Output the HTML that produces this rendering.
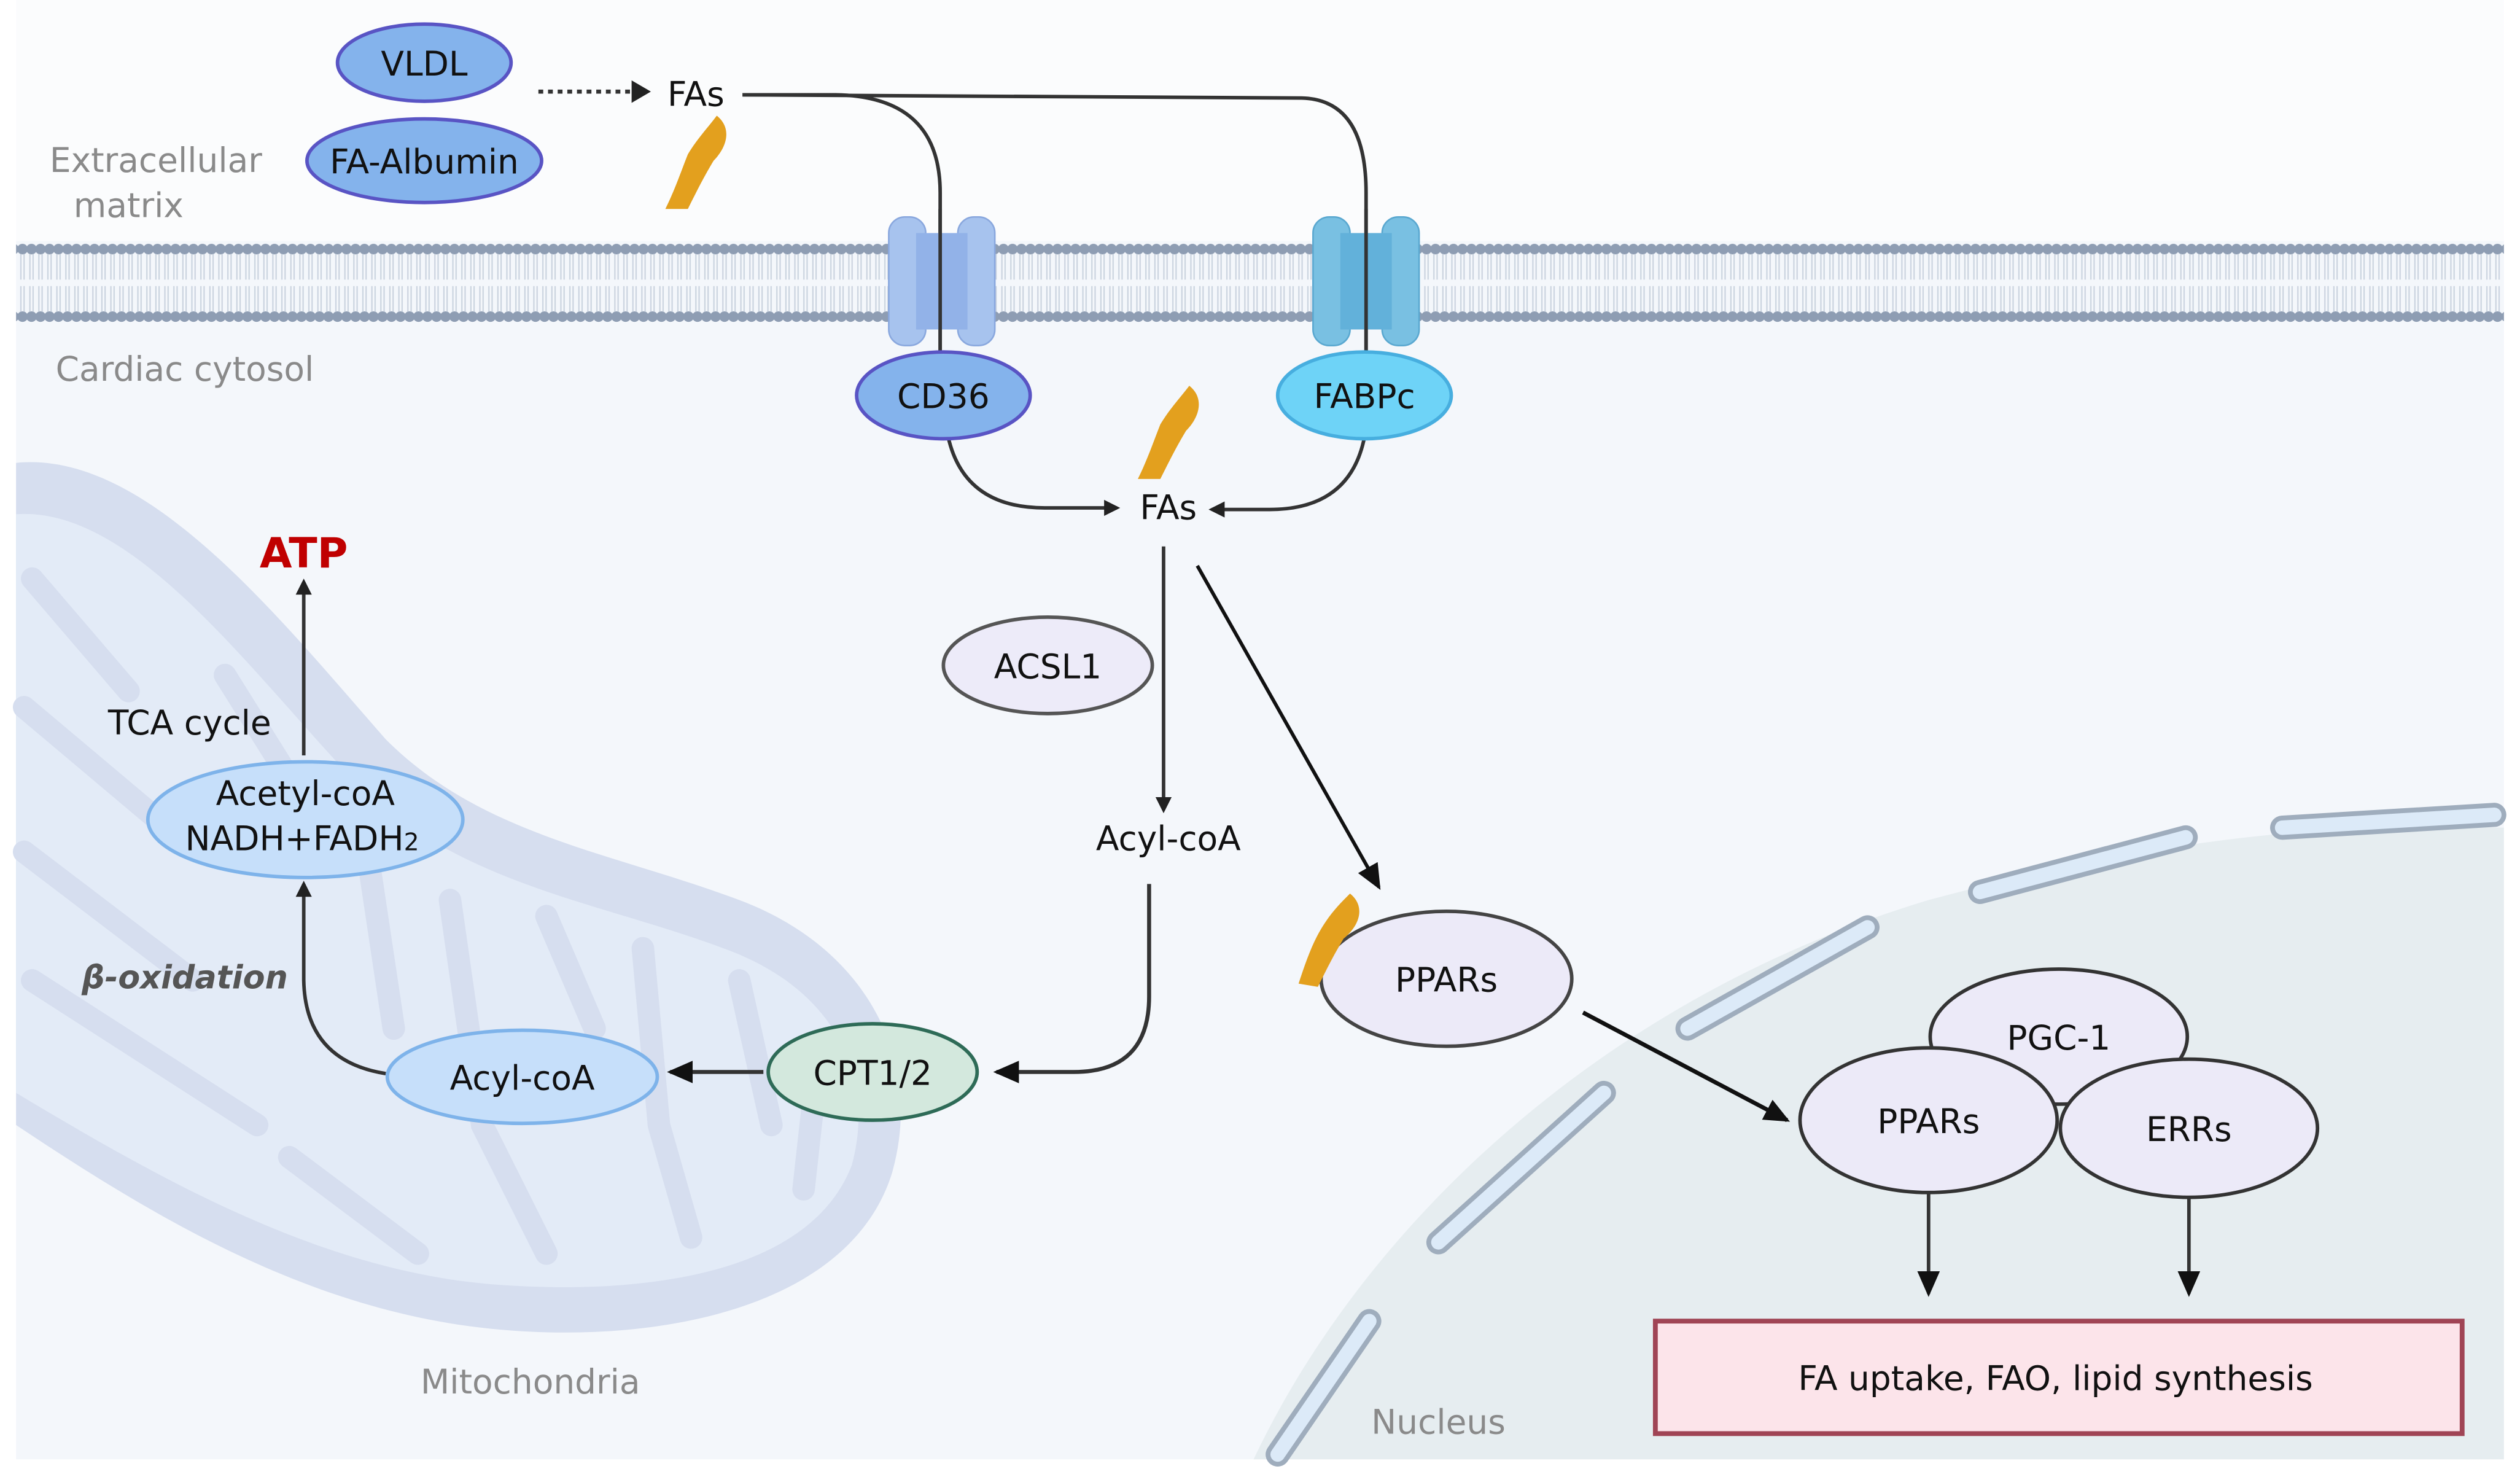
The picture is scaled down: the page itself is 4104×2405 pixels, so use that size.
<!DOCTYPE html>
<html><head><meta charset="utf-8"><style>
html,body{margin:0;padding:0;background:#fff;}
svg{display:block;}
text{font-family:"DejaVu Sans","Liberation Sans",sans-serif;}
</style></head><body>
<svg width="4104" height="2405" viewBox="0 0 1568 919" preserveAspectRatio="none" xmlns="http://www.w3.org/2000/svg">
<defs>
<pattern id="dots" x="0" y="149" width="5.6" height="60" patternUnits="userSpaceOnUse">
<circle cx="2.8" cy="6" r="3.3" fill="#8e9db3"/>
<circle cx="2.8" cy="48" r="3.3" fill="#8e9db3"/>
<line x1="1.8" y1="9" x2="1.8" y2="25" stroke="#c9d2de" stroke-width="0.8"/>
<line x1="3.8" y1="9" x2="3.8" y2="25" stroke="#c9d2de" stroke-width="0.8"/>
<line x1="1.8" y1="29" x2="1.8" y2="45" stroke="#c9d2de" stroke-width="0.8"/>
<line x1="3.8" y1="29" x2="3.8" y2="45" stroke="#c9d2de" stroke-width="0.8"/>
</pattern>
<marker id="ah" markerWidth="10" markerHeight="10" refX="8" refY="5" orient="auto" markerUnits="userSpaceOnUse">
<path d="M0,0 L10,5 L0,10 Z" fill="#222"/>
</marker>
<marker id="ah2" markerWidth="16" markerHeight="14" refX="14" refY="7" orient="auto" markerUnits="userSpaceOnUse">
<path d="M0,0 L16,7 L0,14 Z" fill="#111"/>
</marker>
</defs>
<rect x="10" y="0" width="1548" height="150" fill="#fbfcfd"/>
<rect x="10" y="150" width="1548" height="758" fill="#f4f7fb"/>
<rect x="10" y="149" width="1548" height="55" fill="url(#dots)"/>
<path d="M780,908 C850,760 1000,620 1200,560 C1350,520 1450,512 1558,515 L1558,908 Z" fill="#e6edf0"/>
<g stroke-linecap="round" fill="none">
<g stroke="#9fadbd" stroke-width="15">
<path d="M1420,515 L1552,507"/><path d="M1232,555 L1360,521"/><path d="M1050,640 L1162,577"/><path d="M895,773 L998,680"/><path d="M795,905 L852,822"/>
</g>
<g stroke="#dceaf8" stroke-width="9">
<path d="M1420,515 L1552,507"/><path d="M1232,555 L1360,521"/><path d="M1050,640 L1162,577"/><path d="M895,773 L998,680"/><path d="M795,905 L852,822"/>
</g>
</g>
<path d="M10,288 C90,280 170,380 240,460 C300,520 380,530 460,560 C540,590 575,660 555,730 C530,810 420,835 320,828 C200,820 100,760 10,700 Z" fill="#d6deef"/>
<path d="M10,320 C80,315 150,410 215,480 C280,550 370,560 450,590 C520,615 545,670 530,725 C505,790 410,805 320,800 C210,795 110,740 10,680 Z" fill="#e3ebf7"/>
<g stroke="#d6deef" stroke-width="14" stroke-linecap="round" fill="none">
<path d="M20,360 L80,430"/><path d="M15,440 L110,520"/><path d="M15,530 L120,610"/><path d="M20,610 L160,700"/>
<path d="M140,420 L190,500"/><path d="M230,540 L245,640"/><path d="M280,560 L300,700 L340,780"/><path d="M340,570 L370,640"/><path d="M400,590 L410,700 L430,770"/>
<path d="M460,610 L480,700"/><path d="M510,650 L500,740"/><path d="M180,720 L260,780"/>
</g>
<g fill="#8a8a8a" font-size="21" text-anchor="middle">
<text x="97" y="107">Extracellular</text>
<text x="80" y="135">matrix</text>
<text x="115" y="237">Cardiac cytosol</text>
<text x="330" y="867">Mitochondria</text>
<text x="895" y="892">Nucleus</text>
</g>
<g fill="none" stroke="#333" stroke-width="2.2">
<path d="M462,59 L520,59 Q585,60 585,120 L585,218"/>
<path d="M462,59 L810,61 Q850,62 850,120 L850,218"/>
<path d="M590,272 Q600,316 650,316 L695,316" marker-end="url(#ah)"/>
<path d="M849,272 Q840,317 790,317 L754,317" marker-end="url(#ah)"/>
<path d="M724,340 L724,504" marker-end="url(#ah)"/>
<path d="M715,550 L715,620 Q715,667 668,667 L620,667" stroke-width="2.5" marker-end="url(#ah2)"/>
<path d="M475,667 L417,667" stroke-width="2.5" marker-end="url(#ah2)"/>
<path d="M240,668 Q190,660 189,610 L189,550" marker-end="url(#ah)"/>
<path d="M189,470 L189,362" marker-end="url(#ah)"/>
<path d="M745,352 L858,552" stroke="#111" marker-end="url(#ah2)"/>
<path d="M985,630 L1112,697" stroke="#111" stroke-width="2.6" marker-end="url(#ah2)"/>
<path d="M1200,742 L1200,805" marker-end="url(#ah2)"/>
<path d="M1362,745 L1362,805" marker-end="url(#ah2)"/>
</g>
<path d="M335,57 L395,57" stroke="#333" stroke-width="2.5" stroke-dasharray="3,3"/>
<path d="M393,50 L405,57 L393,64 Z" fill="#222"/>
<g>
<rect x="553" y="135" width="23" height="80" rx="10" fill="#a7c3ee" stroke="#8aa8de"/>
<rect x="596" y="135" width="23" height="80" rx="10" fill="#a7c3ee" stroke="#8aa8de"/>
<rect x="570" y="145" width="32" height="60" fill="#92b2e8"/>
<rect x="817" y="135" width="23" height="80" rx="10" fill="#79c0e2" stroke="#5aa8d0"/>
<rect x="860" y="135" width="23" height="80" rx="10" fill="#79c0e2" stroke="#5aa8d0"/>
<rect x="834" y="145" width="32" height="60" fill="#62b1da"/>
</g>
<path d="M585,130 L585,220 M850,130 L850,220" stroke="#333" stroke-width="2.2"/>
<g stroke-width="2.2">
<ellipse cx="264" cy="39" rx="54" ry="24" fill="#84b3ec" stroke="#5954c4"/>
<ellipse cx="264" cy="100" rx="73" ry="26" fill="#84b3ec" stroke="#5954c4"/>
<ellipse cx="587" cy="246" rx="54" ry="27" fill="#84b3ec" stroke="#5954c4"/>
<ellipse cx="849" cy="246" rx="54" ry="27" fill="#6ed3f7" stroke="#47aedf"/>
<ellipse cx="652" cy="414" rx="65" ry="30" fill="#edebf9" stroke="#555"/>
<ellipse cx="543" cy="667" rx="65" ry="30" fill="#d3e8dd" stroke="#2e6b57"/>
<ellipse cx="325" cy="670" rx="84" ry="29" fill="#c6dffa" stroke="#7eb3ea"/>
<ellipse cx="190" cy="510" rx="98" ry="36" fill="#c6dffa" stroke="#7eb3ea"/>
<ellipse cx="900" cy="609" rx="78" ry="42" fill="#eceaf8" stroke="#444"/>
<ellipse cx="1281" cy="645" rx="80" ry="42" fill="#eceaf8" stroke="#333"/>
<ellipse cx="1200" cy="697" rx="80" ry="45" fill="#eceaf8" stroke="#333"/>
<ellipse cx="1362" cy="702" rx="80" ry="43" fill="#eceaf8" stroke="#333"/>
</g>
<rect x="1030" y="822" width="502" height="70" fill="#fce4ea" stroke="#a04455" stroke-width="3"/>
<g fill="#e3a01e">
<path d="M446,72 C456,80 452,92 444,100 C438,110 434,118 428,130 L414,130 C420,118 424,106 428,96 C434,86 440,80 446,72 Z"/>
<path d="M740,240 C750,248 746,260 738,268 C732,278 728,286 722,298 L708,298 C714,286 718,274 722,264 C728,254 734,248 740,240 Z"/>
<path d="M840,556 C850,564 846,576 836,584 C830,594 826,602 820,614 L808,612 C812,600 816,588 822,578 C828,568 834,562 840,556 Z"/>
</g>
<g fill="#111" font-size="21" text-anchor="middle">
<text x="264" y="47">VLDL</text>
<text x="264" y="108">FA-Albumin</text>
<text x="433" y="66">FAs</text>
<text x="587" y="254">CD36</text>
<text x="849" y="254">FABPc</text>
<text x="727" y="323">FAs</text>
<text x="652" y="422">ACSL1</text>
<text x="727" y="529">Acyl-coA</text>
<text x="543" y="675">CPT1/2</text>
<text x="325" y="678">Acyl-coA</text>
<text x="190" y="501">Acetyl-coA</text>
<text x="188" y="529">NADH+FADH<tspan font-size="15">2</tspan></text>
<text x="118" y="457">TCA cycle</text>
<text x="900" y="617">PPARs</text>
<text x="1281" y="653">PGC-1</text>
<text x="1200" y="705">PPARs</text>
<text x="1362" y="710">ERRs</text>
<text x="1279" y="865">FA uptake, FAO, lipid synthesis</text>
</g>
<text x="189" y="353" fill="#c00000" font-size="26" font-weight="bold" text-anchor="middle">ATP</text>
<text x="115" y="615" fill="#555" font-size="20" font-weight="bold" font-style="italic" text-anchor="middle">β-oxidation</text>
</svg>
</body></html>
